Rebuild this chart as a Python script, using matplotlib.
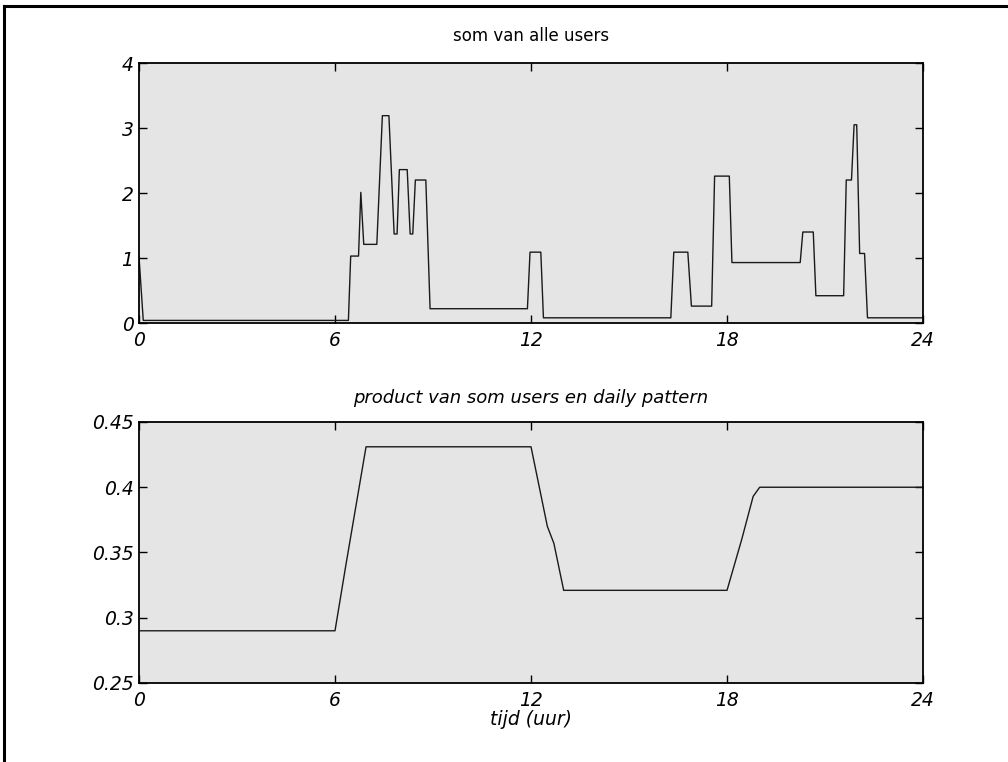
import matplotlib
matplotlib.use("Agg")
import matplotlib.pyplot as plt
from matplotlib.lines import Line2D

# ---- data (hour of day, value) ---------------------------------------------
users_t = [0.0, 0.13, 6.41, 6.48, 6.72, 6.79, 6.88, 7.28, 7.45, 7.65, 7.81, 7.90,
           7.97, 8.21, 8.30, 8.38, 8.46, 8.78, 8.91, 11.89, 11.97, 12.30, 12.38,
           16.28, 16.37, 16.80, 16.91, 17.53, 17.62, 18.07, 18.15, 20.24, 20.32,
           20.64, 20.72, 21.57, 21.65, 21.81, 21.89, 21.97, 22.06, 22.21, 22.30, 24.0]
users_v = [1.02, 0.04, 0.04, 1.03, 1.03, 2.01, 1.21, 1.21, 3.19, 3.19, 1.37, 1.37,
           2.36, 2.36, 1.37, 1.37, 2.20, 2.20, 0.22, 0.22, 1.09, 1.09, 0.08,
           0.08, 1.09, 1.09, 0.26, 0.26, 2.26, 2.26, 0.93, 0.93, 1.40,
           1.40, 0.42, 0.42, 2.20, 2.20, 3.05, 3.05, 1.07, 1.07, 0.08, 0.08]

prod_t = [0.0, 6.0, 6.33, 6.95, 12.0, 12.5, 12.7, 13.0, 18.0, 18.45, 18.8, 19.0, 24.0]
prod_v = [0.29, 0.29, 0.34, 0.431, 0.431, 0.37, 0.357, 0.321, 0.321, 0.36, 0.393, 0.40, 0.40]

x_ticks = [0, 6, 12, 18, 24]
top_yticks = [0, 1, 2, 3, 4]
bot_yticks = [0.25, 0.3, 0.35, 0.4, 0.45]
bot_ylabels = ["0.25", "0.3", "0.35", "0.4", "0.45"]

BG, LINE = "#e5e5e5", "#1a1a1a"
TICK_FONT = dict(family="DejaVu Sans", style="italic", size=13.5)

fig = plt.figure(figsize=(10.08, 7.62), dpi=100, facecolor="white")
ax1 = fig.add_axes([0.1379, 0.5761, 0.7778, 0.3412])
ax2 = fig.add_axes([0.1379, 0.1037, 0.7778, 0.3425])

for ax in (ax1, ax2):
    ax.set_facecolor(BG)
    ax.set_xlim(0, 24)
    ax.set_xticks(x_ticks)
    ax.set_xticklabels([str(t) for t in x_ticks], fontdict=TICK_FONT)
    ax.tick_params(direction="in", top=True, right=True, length=6, width=1,
                   pad=4, color="black")
    ax.tick_params(axis="x", pad=6)
    for s in ax.spines.values():
        s.set_linewidth(1.3)

ax1.plot(users_t, users_v, color=LINE, lw=1.0)
ax1.set_ylim(0, 4)
ax1.set_yticks(top_yticks)
ax1.set_yticklabels([str(t) for t in top_yticks], fontdict=TICK_FONT)
ax1.set_title("som van alle users", family="DejaVu Sans", size=12, pad=16)

ax2.plot(prod_t, prod_v, color=LINE, lw=1.0)
ax2.set_ylim(0.25, 0.45)
ax2.set_yticks(bot_yticks)
ax2.set_yticklabels(bot_ylabels, fontdict=TICK_FONT)
ax2.set_title("product van som users en daily pattern", family="DejaVu Sans",
              style="italic", size=13, pad=14)
ax2.set_xlabel("tijd (uur)", family="DejaVu Sans", style="italic", size=13.5,
               labelpad=0)

# window frame visible on top and left edge of the screenshot
fig.add_artist(Line2D([4 / 1008, 1.0], [1 - 6 / 762, 1 - 6 / 762],
                      transform=fig.transFigure, color="black", lw=2.2))
fig.add_artist(Line2D([4 / 1008, 4 / 1008], [0.0, 1 - 6 / 762],
                      transform=fig.transFigure, color="black", lw=2.2))

fig.savefig("out.png", dpi=100, facecolor="white")
